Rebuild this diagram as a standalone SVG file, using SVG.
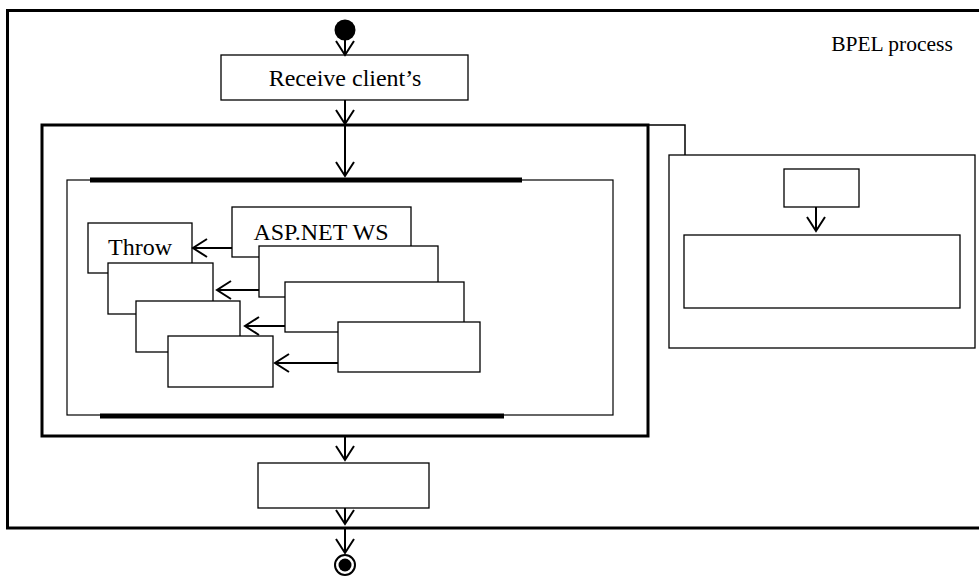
<svg xmlns="http://www.w3.org/2000/svg" width="979" height="576" viewBox="0 0 979 576">
<defs>
<style>
.b{fill:#fff;stroke:#000;stroke-width:1.3}
.t{font-family:"Liberation Serif","Times New Roman",serif;font-size:24px;fill:#000}
.c{fill:none;stroke:#000;stroke-width:2}
</style>
<marker id="v" viewBox="-16 -11 18 22" refX="0" refY="0" markerWidth="18" markerHeight="22" orient="auto" markerUnits="userSpaceOnUse">
<path d="M-14,-9 L0,0 L-14,9" fill="none" stroke="#000" stroke-width="2"/>
</marker>
</defs>
<rect width="979" height="576" fill="#fff"/>
<g id="bpel-process">
<rect x="7.5" y="10.5" width="975" height="517.5" fill="none" stroke="#000" stroke-width="3"/>
<text class="t" x="892" y="51" text-anchor="middle" style="font-size:21.5px">BPEL process</text>
</g>
<g id="start"><circle cx="345" cy="30" r="10.5" fill="#000"/></g>
<g id="receive"><rect class="b" x="221" y="55" width="247" height="45"/><text class="t" x="345" y="86" text-anchor="middle">Receive client’s</text></g>
<g id="sequence"><rect x="42" y="125" width="606" height="311" fill="none" stroke="#000" stroke-width="3"/></g>
<g id="flow">
<rect x="67" y="180" width="546" height="235" fill="none" stroke="#000" stroke-width="1.2"/>
<line x1="90" y1="180" x2="522" y2="180" stroke="#000" stroke-width="5"/>
<line x1="100" y1="416" x2="504" y2="416" stroke="#000" stroke-width="5"/>
</g>
<g id="throw"><rect class="b" x="88" y="223" width="104" height="50"/><text class="t" x="140" y="255" text-anchor="middle">Throw</text></g>
<g id="left2"><rect class="b" x="108" y="263" width="105" height="51"/></g>
<g id="left3"><rect class="b" x="136" y="301" width="104" height="51"/></g>
<g id="left4"><rect class="b" x="168" y="336" width="105" height="51"/></g>
<g id="aspnet"><rect class="b" x="232" y="207" width="179" height="50"/><text class="t" x="321" y="240" text-anchor="middle">ASP.NET WS</text></g>
<g id="right2"><rect class="b" x="259" y="246" width="179" height="51"/></g>
<g id="right3"><rect class="b" x="285" y="282" width="179" height="50"/></g>
<g id="right4"><rect class="b" x="338" y="322" width="142" height="50"/></g>
<g id="handler">
<rect class="b" x="669" y="155" width="306" height="193"/>
</g>
<g id="handler-top"><rect class="b" x="784" y="169" width="75" height="38"/></g>
<g id="handler-body"><rect class="b" x="684" y="235" width="276" height="73"/></g>
<g id="reply"><rect class="b" x="258" y="463" width="171" height="45"/></g>
<g id="end"><circle cx="345" cy="565" r="10" fill="#fff" stroke="#000" stroke-width="2"/><circle cx="345" cy="565" r="6.5" fill="#000"/></g>
<g id="connectors">
<line class="c" x1="345" y1="38" x2="345" y2="55" marker-end="url(#v)"/>
<line class="c" x1="345" y1="100" x2="345" y2="124" marker-end="url(#v)"/>
<line class="c" x1="345" y1="126" x2="345" y2="176" marker-end="url(#v)"/>
<line class="c" x1="232" y1="248" x2="193" y2="248" marker-end="url(#v)"/>
<line class="c" x1="259" y1="290" x2="217" y2="290" marker-end="url(#v)"/>
<line class="c" x1="285" y1="326" x2="245" y2="326" marker-end="url(#v)"/>
<line class="c" x1="338" y1="363" x2="275" y2="363" marker-end="url(#v)"/>
<polyline points="648,125 685,125 685,155" fill="none" stroke="#000" stroke-width="1.5"/>
<line class="c" x1="816" y1="207" x2="816" y2="231" marker-end="url(#v)"/>
<line class="c" x1="345" y1="437" x2="345" y2="460" marker-end="url(#v)"/>
<line class="c" x1="345" y1="508" x2="345" y2="524" marker-end="url(#v)"/>
<line class="c" x1="345" y1="529" x2="345" y2="553" marker-end="url(#v)"/>
</g>
</svg>
